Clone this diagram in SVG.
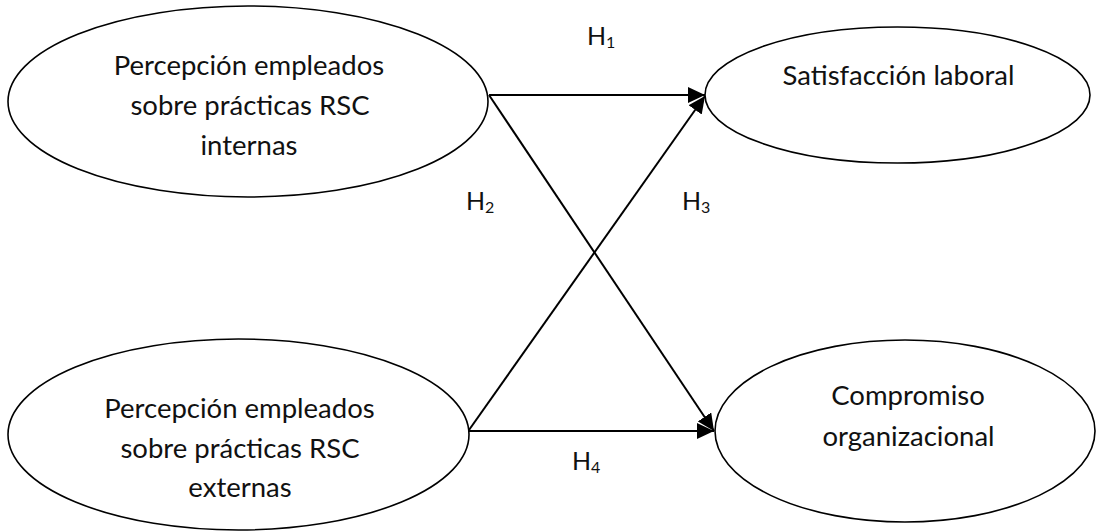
<svg xmlns="http://www.w3.org/2000/svg" width="1096" height="531" viewBox="0 0 1096 531">
  <style>
    .node { fill: #ffffff; stroke: #000000; stroke-width: 1.6; }
    .label { font-family: Lato, "Liberation Sans", sans-serif; font-size: 27.5px; fill: #111111; text-anchor: middle; }
    .hyp { font-family: Lato, "Liberation Sans", sans-serif; font-size: 25px; fill: #111111; }
    .sub { font-size: 16px; }
    .edge { stroke: #000000; stroke-width: 2; fill: none; marker-end: url(#arrow); }
  </style>
  <defs>
    <marker id="arrow" markerUnits="userSpaceOnUse" markerWidth="18" markerHeight="16" viewBox="0 0 18 16" refX="17" refY="8" orient="auto">
      <path d="M0,0 L17,8 L0,16 Z" fill="#000000"/>
    </marker>
  </defs>

  <rect width="1096" height="531" fill="#ffffff"/>

  <!-- connectors -->
  <g id="connectors">
    <line class="edge" x1="489" y1="95" x2="705" y2="95"/>
    <line class="edge" x1="489" y1="95" x2="714" y2="431"/>
    <line class="edge" x1="469" y1="430" x2="705" y2="96"/>
    <line class="edge" x1="469" y1="431" x2="714" y2="431"/>
  </g>

  <!-- hypothesis labels -->
  <g id="labels">
    <text class="hyp" x="587" y="45">H<tspan class="sub" dy="3">1</tspan></text>
    <text class="hyp" x="466" y="210">H<tspan class="sub" dy="3">2</tspan></text>
    <text class="hyp" x="682" y="210">H<tspan class="sub" dy="3">3</tspan></text>
    <text class="hyp" x="572" y="470">H<tspan class="sub" dy="3">4</tspan></text>
  </g>

  <g id="rsc-internas">
    <ellipse class="node" cx="248" cy="101.5" rx="240" ry="95.5"/>
    <text class="label" x="249" y="75">Percepción empleados</text>
    <text class="label" x="250" y="115">sobre prácticas RSC</text>
    <text class="label" x="249" y="155">internas</text>
  </g>

  <g id="rsc-externas">
    <ellipse class="node" cx="238.5" cy="434.5" rx="230.5" ry="95.5"/>
    <text class="label" x="239.5" y="418">Percepción empleados</text>
    <text class="label" x="240" y="458">sobre prácticas RSC</text>
    <text class="label" x="240" y="497">externas</text>
  </g>

  <g id="satisfaccion">
    <ellipse class="node" cx="897.5" cy="95" rx="192.5" ry="68"/>
    <text class="label" x="898.5" y="85">Satisfacción laboral</text>
  </g>

  <g id="compromiso">
    <ellipse class="node" cx="905" cy="431" rx="190" ry="91"/>
    <text class="label" x="908" y="405">Compromiso</text>
    <text class="label" x="908.5" y="446">organizacional</text>
  </g>
</svg>
